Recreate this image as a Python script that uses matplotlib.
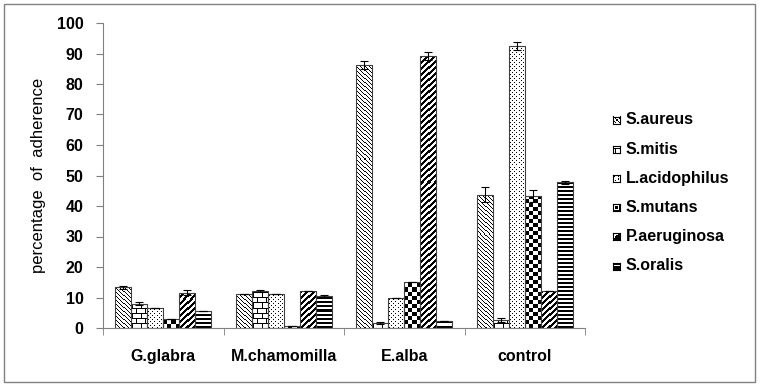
import numpy as np
import matplotlib
matplotlib.use("Agg")
import matplotlib.pyplot as plt
from matplotlib.patches import Rectangle

plt.rcParams["font.family"] = ["Liberation Sans", "DejaVu Sans"]

# ── data ─────────────────────────────────────
extracts = ["G.glabra", "M.chamomilla", "E.alba", "control"]
strains = ["S.aureus", "S.mitis", "L.acidophilus", "S.mutans", "P.aeruginosa", "S.oralis"]

s_aureus      = [13.3, 11.0, 86.3, 43.7]
s_mitis       = [8.0, 12.2, 1.6, 2.7]
l_acidophilus = [6.7, 11.0, 10.0, 92.5]
s_mutans      = [3.1, 0.8, 15.2, 43.3]
p_aeruginosa  = [11.6, 12.0, 89.2, 12.0]
s_oralis      = [5.7, 10.5, 2.3, 47.8]

err_aureus    = [0.5, 0.0, 1.4, 2.4]
err_mitis     = [0.4, 0.4, 0.4, 0.6]
err_acid      = [0.0, 0.0, 0.0, 1.4]
err_mutans    = [0.0, 0.0, 0.0, 2.0]
err_aerug     = [0.7, 0.0, 1.4, 0.0]
err_oralis    = [0.0, 0.3, 0.0, 0.5]

values = [s_aureus, s_mitis, l_acidophilus, s_mutans, p_aeruginosa, s_oralis]
errors = [err_aureus, err_mitis, err_acid, err_mutans, err_aerug, err_oralis]

fills = ["back", "brick", "dots", "checker", "fwd", "horiz"]

PX_X = 482 / 4      # pixels per x unit
PX_Y = 305 / 100    # pixels per y unit


def pattern(kind, ny, nx):
    # pixel patterns imitating the Excel fills (1 = black)
    yy, xx = np.indices((ny, nx))
    if kind == "back":
        m = (xx + yy) % 4 == 0
    elif kind == "fwd":
        m = (xx - yy) % 6 < 3
    elif kind == "dots":
        m = ((yy % 4 == 0) & (xx % 4 == 1)) | ((yy % 4 == 2) & (xx % 4 == 3))
    elif kind == "horiz":
        m = yy % 4 < 2
    elif kind == "checker":
        m = (yy // 4 + xx // 4) % 2 == 1
    else:  # brick
        row = yy // 5
        m = ((yy % 5) == 4) | ((xx % 8) == np.where(row % 2 == 0, 1, 5))
    return m.astype(float)


# small legend icons (6x6 inside the frame), drawn with origin="upper"
ii, jj = np.indices((6, 6))
icons = {
    "back": ((ii - jj) % 3 == 0).astype(float),
    "brick": ((ii == 2) | ((ii > 2) & (jj == 2))).astype(float),
    "dots": (((ii == 1) & (jj == 1)) | ((ii == 1) & (jj == 4)) |
             ((ii == 4) & (jj == 2)) | ((ii == 3) & (jj == 4))).astype(float),
    "checker": (((ii < 1) | (ii > 4) | (jj < 1) | (jj > 4)) |
                ((ii >= 2) & (ii <= 3) & (jj >= 2) & (jj <= 3))).astype(float),
    "fwd": (ii + jj >= 5).astype(float),
    "horiz": (ii != 2).astype(float),
}

fig = plt.figure(figsize=(7.6, 3.86), dpi=100)
fig.patches.append(Rectangle((4 / 760, 4 / 386), 751 / 760, 378 / 386,
                             transform=fig.transFigure, fill=False,
                             edgecolor="#808080", linewidth=1.0))
ax = fig.add_axes([103 / 760, 1 - 328 / 386, 482 / 760, 305 / 386])

n = len(strains)
w = 0.8 / n
x = np.arange(len(extracts))

for i, (vals, errs, kind) in enumerate(zip(values, errors, fills)):
    pos = x - 0.4 + w * (i + 0.5)
    bars = ax.bar(pos, vals, w, color="white", edgecolor="none", zorder=2)
    for b in bars:
        x0, x1 = b.get_x(), b.get_x() + b.get_width()
        nx = int(round(b.get_width() * PX_X))
        ny = max(1, int(np.ceil(b.get_height() * PX_Y)))
        im = ax.imshow(pattern(kind, ny, nx), cmap="gray_r", vmin=0, vmax=1,
                       extent=(x0, x1, 0, ny / PX_Y), aspect="auto",
                       interpolation="nearest", origin="lower", zorder=2.5)
        im.set_clip_path(b)
    ax.bar(pos, vals, w, color="none", edgecolor="#404040", linewidth=0.8, zorder=2.6)
    ax.errorbar(pos, vals, yerr=errs, fmt="none", ecolor="black",
                elinewidth=0.8, capsize=3, capthick=0.8, zorder=3)

ax.set_xlim(-0.5, len(extracts) - 0.5)
ax.set_ylim(0, 100)
ax.set_yticks(range(0, 101, 10))
ax.set_xticks(x)
ax.set_xticklabels(extracts, fontsize=11.5, fontweight="bold")
ax.set_xticks(np.arange(-0.5, len(extracts)), minor=True)
ax.tick_params(axis="x", which="major", length=0, pad=15)
ax.tick_params(axis="x", which="minor", length=5, color="#808080")
ax.tick_params(axis="y", length=5, color="#808080", labelsize=11.5, pad=9)
for lab in ax.get_yticklabels():
    lab.set_fontweight("bold")
ax.set_ylabel("percentage  of  adherence", fontsize=12, labelpad=8)
ax.spines[["top", "right"]].set_visible(False)
ax.spines[["left", "bottom"]].set_color("#808080")

# legend drawn by hand: icon + label per strain
legend_y = [120, 149.3, 178.6, 207.5, 236.8, 266]
for name, kind, yc in zip(strains, fills, legend_y):
    iax = fig.add_axes([613 / 760, 1 - (yc + 3.5) / 386, 7 / 760, 7 / 386])
    iax.imshow(icons[kind], cmap="gray_r", vmin=0, vmax=1,
               interpolation="nearest", aspect="auto")
    iax.set_xticks([])
    iax.set_yticks([])
    for sp in iax.spines.values():
        sp.set_color("black")
        sp.set_linewidth(0.8)
    fig.text(626 / 760, 1 - yc / 386, name, fontsize=11.5, fontweight="bold",
             ha="left", va="center")

plt.savefig("out.png", dpi=100)
